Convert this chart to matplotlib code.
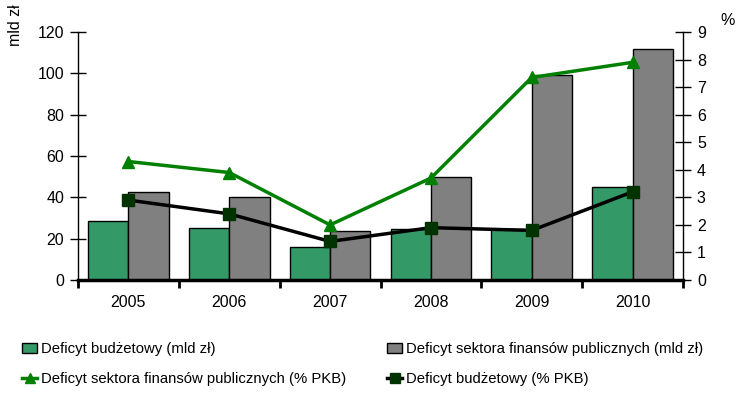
import numpy as np
import matplotlib.pyplot as plt

plt.rcParams['font.family'] = ['Liberation Sans', 'DejaVu Sans']

# ------------------------------------------------------
years = ['2005', '2006', '2007', '2008', '2009', '2010']
deficyt_budzetowy = [28.5, 25.2, 16.0, 24.7, 24.6, 45.0]        # mld zł
deficyt_sektora = [42.6, 40.2, 23.7, 49.8, 99.2, 112.0]         # mld zł
deficyt_sektora_pkb = [4.3, 3.9, 2.0, 3.7, 7.35, 7.9]           # % PKB
deficyt_budzetowy_pkb = [2.9, 2.4, 1.4, 1.9, 1.8, 3.2]          # % PKB

fs = 11.5
lfs = 10.7
x = np.arange(len(years))
w = 0.4

fig = plt.figure(figsize=(7.45, 4.04), dpi=100)
ax = fig.add_axes([0.1047, 0.3069, 0.8121, 0.6139])

b1 = ax.bar(x - w / 2, deficyt_budzetowy, w, color='#339966', edgecolor='black', linewidth=1,
            label='Deficyt budżetowy (mld zł)')
b2 = ax.bar(x + w / 2, deficyt_sektora, w, color='#808080', edgecolor='black', linewidth=1,
            label='Deficyt sektora finansów publicznych (mld zł)')

ax.set_xlim(-0.5, len(years) - 0.5)
ax.set_ylim(0, 120)
ax.set_yticks(range(0, 121, 20))
ax.set_xticks(x)
ax.set_xticklabels(years)
ax.set_xticks(np.arange(-0.5, len(years), 1), minor=True)
ax.tick_params(axis='x', which='major', length=0, pad=11, labelsize=fs)
ax.tick_params(axis='x', which='minor', length=6, width=2, direction='out')
ax.tick_params(axis='y', direction='inout', length=12, width=1, labelsize=fs, pad=4)
ax.spines['top'].set_visible(False)
ax.spines['right'].set_visible(False)
ax.spines['bottom'].set_linewidth(2.5)
ax.spines['left'].set_linewidth(1)

ax2 = ax.twinx()
l1, = ax2.plot(x, deficyt_sektora_pkb, color='#008000', linewidth=2.5, marker='^',
               markersize=8.5, label='Deficyt sektora finansów publicznych (% PKB)')
l2, = ax2.plot(x, deficyt_budzetowy_pkb, color='black', linewidth=2.5, marker='s',
               markersize=8.5, markerfacecolor='#003300', markeredgecolor='#003300',
               label='Deficyt budżetowy (% PKB)')
ax2.set_ylim(0, 9)
ax2.set_yticks(range(0, 10))
ax2.tick_params(axis='y', direction='inout', length=12, width=1, labelsize=fs, pad=4)
ax2.spines['top'].set_visible(False)
ax2.spines['left'].set_visible(False)
ax2.spines['bottom'].set_visible(False)
ax2.spines['right'].set_linewidth(1)

fig.text(0.021, 0.99, 'mld zł', rotation=90, ha='center', va='top', fontsize=fs)
fig.text(0.976, 0.93, '%', ha='center', va='bottom', fontsize=fs)

leg_kw = dict(loc='upper left', frameon=False, fontsize=lfs, handlelength=1.0,
              handleheight=0.65, handletextpad=0.25, labelspacing=1.1, borderaxespad=0,
              markerscale=0.8)
leg1 = fig.legend([b1, l1], [b1.get_label(), l1.get_label()],
                  bbox_to_anchor=(0.022, 0.168), **leg_kw)
leg2 = fig.legend([b2, l2], [b2.get_label(), l2.get_label()],
                  bbox_to_anchor=(0.512, 0.168), **leg_kw)

fig.savefig('out.png', dpi=100)
